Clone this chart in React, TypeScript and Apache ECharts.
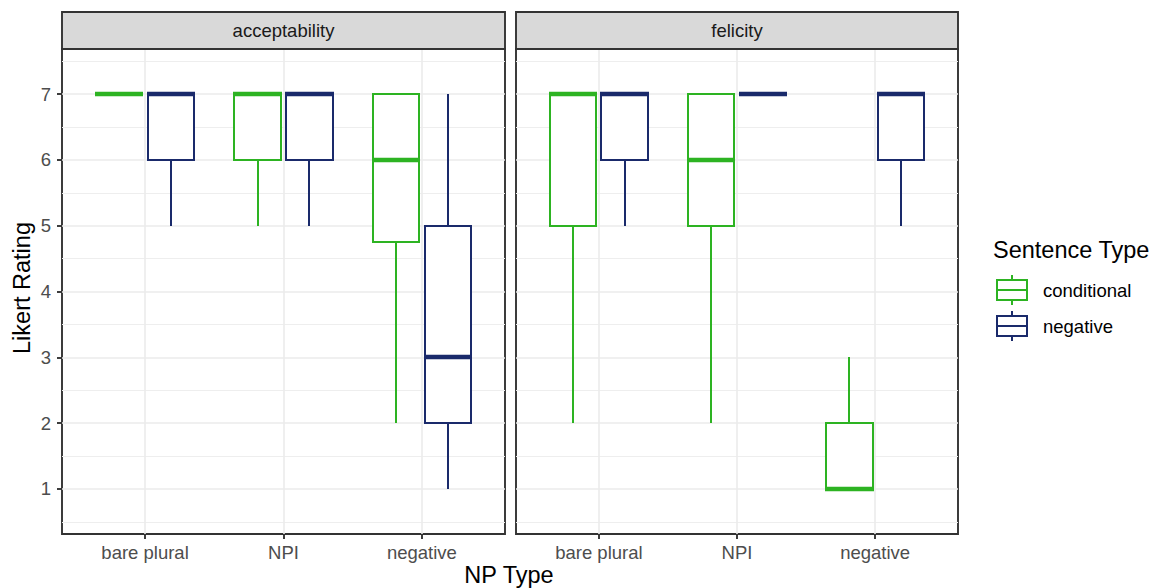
import React, { useEffect, useRef } from "react";
import * as echarts from "echarts";

const categories = ["bare plural", "NPI", "negative"];
const facets = ["acceptability", "felicity"];
const sentenceTypes = ["conditional", "negative"];
const typeColors = ["#2DB322", "#1A2A6B"];
// each entry: [lower whisker, Q1, median, Q3, upper whisker]
const acceptabilityConditional = [[7, 7, 7, 7, 7], [5, 6, 7, 7, 7], [2, 4.75, 6, 7, 7]];
const acceptabilityNegative = [[5, 6, 7, 7, 7], [5, 6, 7, 7, 7], [1, 2, 3, 5, 7]];
const felicityConditional = [[2, 5, 7, 7, 7], [2, 5, 6, 7, 7], [1, 1, 1, 2, 3]];
const felicityNegative = [[5, 6, 7, 7, 7], [7, 7, 7, 7, 7], [5, 6, 7, 7, 7]];
const yTicks = [1, 2, 3, 4, 5, 6, 7];
const yMinor = [0.5, 1.5, 2.5, 3.5, 4.5, 5.5, 6.5, 7.5];
const xTicks = [1, 2, 3];

const FONT = "Liberation Sans, Arial, Helvetica, sans-serif";
const facetData = [
  [acceptabilityConditional, acceptabilityNegative],
  [felicityConditional, felicityNegative],
];
const gridRects = [
  { left: 62, top: 49, width: 443, height: 485 },
  { left: 516, top: 49, width: 442, height: 485 },
];

export default function App() {
  const ref = useRef<HTMLDivElement>(null);
  useEffect(() => {
    document.body.style.margin = "0";
    const chart = echarts.init(ref.current!, null, { renderer: "svg" });

    const grids = gridRects.map((g) => ({
      ...g,
      show: true,
      backgroundColor: "#FFFFFF",
      borderColor: "#333333",
      borderWidth: 1.9,
      containLabel: false,
      outerBoundsMode: "none",
    }));

    const xAxes = gridRects.map((_, i) => ({
      type: "value",
      gridIndex: i,
      min: 0.4,
      max: 3.6,
      axisLine: { show: false },
      splitLine: { show: false },
      axisTick: { show: true, customValues: xTicks, length: 5, lineStyle: { color: "#333333", width: 1.9 } },
      axisLabel: {
        show: true,
        customValues: xTicks,
        formatter: (v: number) => categories[Math.round(v) - 1] ?? "",
        fontSize: 18.5,
        color: "#4D4D4D",
        fontFamily: FONT,
        margin: 9,
      },
    }));

    const yAxes = gridRects.map((_, i) => ({
      type: "value",
      gridIndex: i,
      min: 0.316,
      max: 7.684,
      axisLine: { show: false },
      splitLine: { show: false },
      axisTick: { show: i === 0, customValues: yTicks, length: 5, lineStyle: { color: "#333333", width: 1.9 } },
      axisLabel: {
        show: i === 0,
        customValues: yTicks,
        fontSize: 18.5,
        color: "#4D4D4D",
        fontFamily: FONT,
        margin: 11,
      },
    }));

    const series: any[] = [];
    gridRects.forEach((_, f) => {
      series.push({
        type: "line",
        name: "grid" + f,
        xAxisIndex: f,
        yAxisIndex: f,
        data: [],
        z: 1,
        silent: true,
        markLine: {
          z: 1,
          silent: true,
          symbol: ["none", "none"],
          label: { show: false },
          emphasis: { disabled: true },
          lineStyle: { color: "#EBEBEB", width: 1.6, type: "solid" },
          data: [
            ...yMinor.map((v) => ({ yAxis: v, lineStyle: { color: "#EEEEEE", width: 1, type: "solid" } })),
            ...yTicks.map((v) => ({ yAxis: v })),
            ...xTicks.map((v) => ({ xAxis: v })),
          ],
        },
      });
      sentenceTypes.forEach((t, k) => {
        const color = typeColors[k];
        const offset = k === 0 ? -0.1875 : 0.1875;
        const hw = 0.16875;
        series.push({
          type: "custom",
          name: t,
          xAxisIndex: f,
          yAxisIndex: f,
          z: 10,
          itemStyle: { color },
          encode: { x: 0, y: [1, 2, 3, 4, 5] },
          data: facetData[f][k].map((d, i) => [i + 1, ...d]),
          renderItem: (params: any, api: any) => {
            const cx = api.value(0) + offset;
            const R = Math.round;
            const xc = R(api.coord([cx, 0])[0]);
            const xl = R(api.coord([cx - hw, 0])[0]);
            const xr = R(api.coord([cx + hw, 0])[0]);
            const yv = (v: number) => R(api.coord([cx, v])[1]);
            const yLow = yv(api.value(1));
            const yQ1 = yv(api.value(2));
            const yMed = yv(api.value(3));
            const yQ3 = yv(api.value(4));
            const yHigh = yv(api.value(5));
            const lw = 2;
            const mh = 4.4;
            return {
              type: "group",
              children: [
                { type: "line", shape: { x1: xc, y1: yHigh, x2: xc, y2: yQ3 }, style: { stroke: color, lineWidth: lw, fill: "none" } },
                { type: "line", shape: { x1: xc, y1: yQ1, x2: xc, y2: yLow }, style: { stroke: color, lineWidth: lw, fill: "none" } },
                {
                  type: "rect",
                  shape: { x: xl, y: yQ3, width: xr - xl, height: yQ1 - yQ3 },
                  style: { fill: "#FFFFFF", stroke: color, lineWidth: lw },
                },
                {
                  type: "rect",
                  shape: { x: xl - 1, y: yMed - mh / 2, width: xr - xl + 2, height: mh },
                  style: { fill: color, stroke: "none", lineWidth: 0 },
                },
              ],
            };
          },
        });
      });
    });

    const graphic: any[] = [];
    facets.forEach((name, f) => {
      const g = gridRects[f];
      graphic.push({
        type: "rect",
        shape: { x: g.left, y: 12, width: g.width, height: g.top - 12 },
        style: { fill: "#D9D9D9", stroke: "#333333", lineWidth: 1.9 },
        z: 10,
      });
      graphic.push({
        type: "text",
        x: g.left + g.width / 2,
        y: 30,
        style: { text: name, align: "center", verticalAlign: "middle", fontSize: 18.5, fill: "#1A1A1A", fontFamily: FONT },
        z: 11,
      });
    });
    graphic.push({
      type: "text",
      x: 22,
      y: 288,
      rotation: Math.PI / 2,
      style: { text: "Likert Rating", align: "center", verticalAlign: "middle", fontSize: 23.5, fill: "#000000", fontFamily: FONT },
    });
    graphic.push({
      type: "text",
      x: 509,
      y: 575,
      style: { text: "NP Type", align: "center", verticalAlign: "middle", fontSize: 23.5, fill: "#000000", fontFamily: FONT },
    });
    graphic.push({
      type: "text",
      x: 993,
      y: 250,
      style: { text: "Sentence Type", align: "left", verticalAlign: "middle", fontSize: 23.5, fill: "#000000", fontFamily: FONT },
    });
    sentenceTypes.forEach((t, k) => {
      const color = typeColors[k];
      const cy = 290 + k * 36;
      const x0 = 997;
      const w = 30;
      const lw = 2;
      graphic.push({ type: "line", shape: { x1: x0 + w / 2, y1: cy - 15, x2: x0 + w / 2, y2: cy - 10 }, style: { stroke: color, lineWidth: lw } });
      graphic.push({ type: "line", shape: { x1: x0 + w / 2, y1: cy + 10, x2: x0 + w / 2, y2: cy + 15 }, style: { stroke: color, lineWidth: lw } });
      graphic.push({ type: "rect", shape: { x: x0, y: cy - 10, width: w, height: 20 }, style: { fill: "#FFFFFF", stroke: color, lineWidth: lw } });
      graphic.push({ type: "line", shape: { x1: x0, y1: cy, x2: x0 + w, y2: cy }, style: { stroke: color, lineWidth: lw } });
      graphic.push({
        type: "text",
        x: 1043,
        y: cy,
        style: { text: t, align: "left", verticalAlign: "middle", fontSize: 18.5, fill: "#000000", fontFamily: FONT },
      });
    });

    chart.setOption({
      animation: false,
      backgroundColor: "#FFFFFF",
      textStyle: { fontFamily: FONT },
      grid: grids,
      xAxis: xAxes,
      yAxis: yAxes,
      series,
      graphic,
    });
    return () => chart.dispose();
  }, []);
  return <div ref={ref} style={{ width: 1153, height: 588 }} />;
}
